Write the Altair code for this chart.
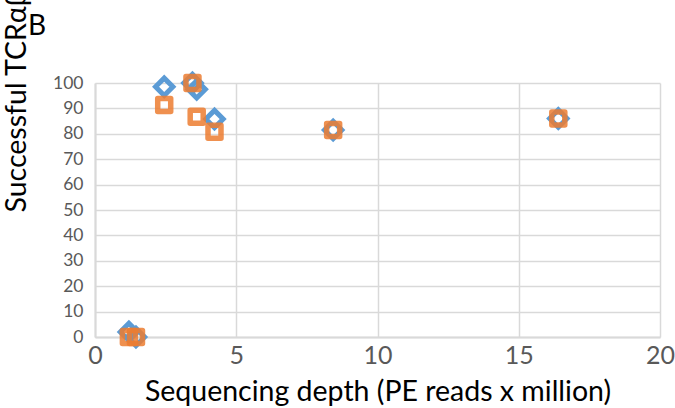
import altair as alt
import pandas as pd

depth = [1.2, 1.45, 2.45, 3.45, 3.6, 4.23, 8.43, 16.4]
series_a = [2.0, 0.0, 98.5, 100.0, 97.5, 85.8, 81.5, 86.0]
series_b = [0.0, 0.0, 91.3, 100.0, 86.7, 80.8, 81.5, 86.0]

df_a = pd.DataFrame({"x": depth, "y": series_a})
df_b = pd.DataFrame({"x": depth, "y": series_b})

FONT = "Lato"

xs = alt.Scale(domain=[0, 20], nice=False)
ys = alt.Scale(domain=[0, 100], nice=False)

x_axis = alt.Axis(
    values=[0, 5, 10, 15, 20], title="Sequencing depth (PE reads x million)",
    labelFontSize=25, labelColor="#595959", labelFont=FONT, labelPadding=6,
    labelFlush=False, labelOverlap=False,
    titleFontSize=28.5, titleFont=FONT, titleColor="#000000", titleFontWeight="normal",
    titleBaseline="alphabetic", titleY=63, ticks=False,
    grid=True, gridColor="#D9D9D9", gridWidth=1.5,
    domainColor="#D9D9D9", domainWidth=2,
)
y_axis = alt.Axis(
    values=list(range(0, 101, 10)), title="Successful TCRαβ pairing (%)",
    labelFontSize=17.5, labelColor="#595959", labelFont=FONT, labelPadding=12,
    labelFlush=False, labelOverlap=False,
    titleFontSize=28.5, titleFont=FONT, titleColor="#000000", titleFontWeight="normal",
    titleAngle=270, titleAlign="left", titleBaseline="alphabetic",
    titleX=-70, titleY=129, ticks=False,
    grid=True, gridColor="#D9D9D9", gridWidth=1.5,
    domainColor="#D9D9D9", domainWidth=2,
)

a = alt.Chart(df_a).mark_point(
    shape="diamond", size=300, filled=False, strokeWidth=5, color="#5B9BD5", opacity=1
).encode(x=alt.X("x:Q", scale=xs, axis=x_axis), y=alt.Y("y:Q", scale=ys, axis=y_axis))

b = alt.Chart(df_b).mark_point(
    shape="square", size=169, filled=False, strokeWidth=5.5, color="#ED7D31",
    opacity=0.85, strokeJoin="round"
).encode(x=alt.X("x:Q", scale=xs, axis=x_axis), y=alt.Y("y:Q", scale=ys, axis=y_axis))

label = alt.Chart(pd.DataFrame({"t": ["B"]})).mark_text(
    font=FONT, fontSize=28, align="left", baseline="alphabetic", color="#000000"
).encode(x=alt.value(-67), y=alt.value(-48), text="t:N")

chart = alt.layer(a, b, label).properties(
    width=565, height=254,
    autosize=alt.AutoSizeParams(type="none"),
    padding={"left": 95, "top": 83, "right": 15, "bottom": 71},
).configure_view(stroke=None)

chart.save("out.html", embed_options={"renderer": "svg", "actions": False})
